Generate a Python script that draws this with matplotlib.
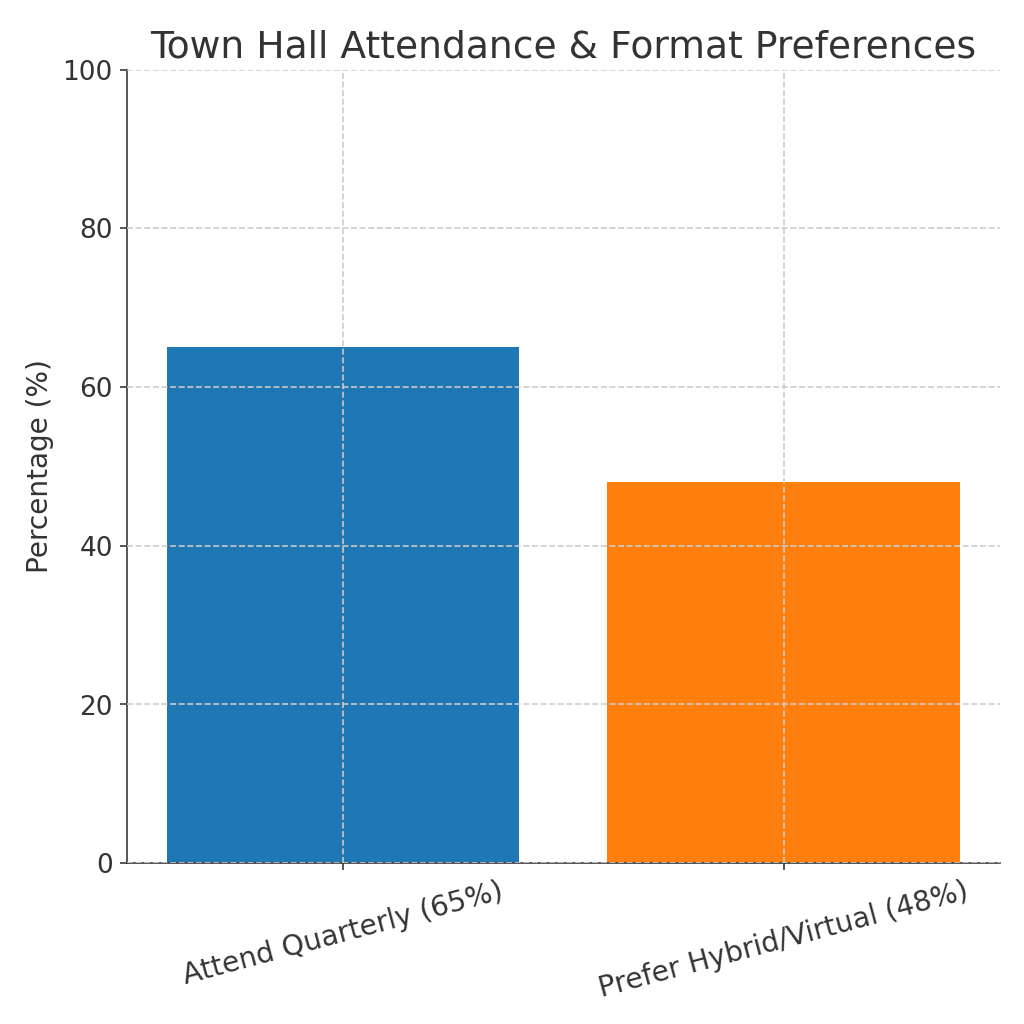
import matplotlib
matplotlib.use("Agg")
import matplotlib.pyplot as plt

categories = ["Attend Quarterly (65%)", "Prefer Hybrid/Virtual (48%)"]
values = [65, 48]
colors = ["#1f77b4", "#ff7f0e"]

plt.rcParams["font.family"] = "DejaVu Sans"
text_color = "#333333"

fig = plt.figure(figsize=(7, 7), dpi=146.3)
ax = fig.add_axes([0.124, 0.157, 0.852, 0.775])

ax.bar(categories, values, color=colors, width=0.8, zorder=2)
ax.set_ylim(0, 100)
ax.set_yticks([0, 20, 40, 60, 80, 100])
ax.set_title("Town Hall Attendance & Format Preferences", fontsize=18.5, color=text_color)
ax.set_ylabel("Percentage (%)", fontsize=13.8, color=text_color)
ax.tick_params(axis="y", labelsize=13, colors=text_color)
ax.tick_params(axis="x", labelsize=13.9, colors=text_color)
plt.setp(ax.get_xticklabels(), rotation=15)
ax.grid(True, linestyle="--", color="#cccccc", linewidth=0.8, zorder=0)
ax.set_axisbelow(False)
for s in ("top", "right"):
    ax.spines[s].set_visible(False)
for s in ("left", "bottom"):
    ax.spines[s].set_color(text_color)

fig.savefig("out.png", dpi=146.3)
